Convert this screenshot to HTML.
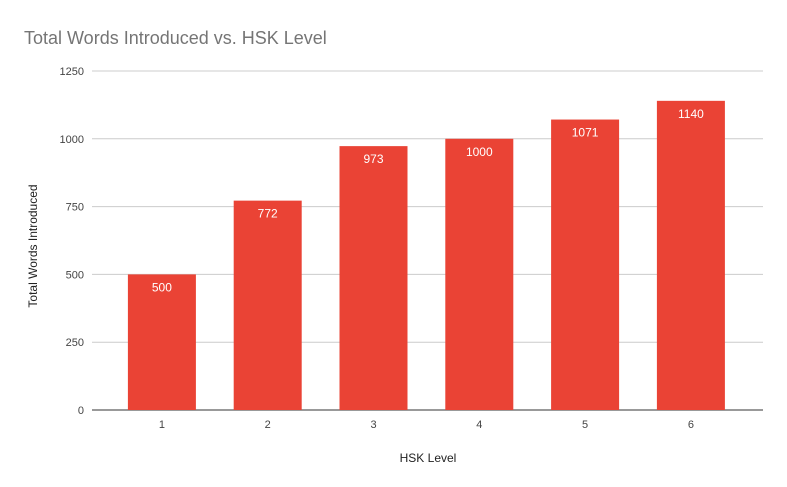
<!DOCTYPE html>
<html><head><meta charset="utf-8"><style>
body{margin:0;background:#fff;font-family:"Liberation Sans",Arial,sans-serif;}
svg{display:block}
</style></head><body>
<svg id="chart" width="787" height="487" viewBox="0 0 787 487" xmlns="http://www.w3.org/2000/svg">
<rect width="787" height="487" fill="#fff"/>
<text x="24" y="44" font-size="18" fill="#757575">Total Words Introduced vs. HSK Level</text>
<g id="grid"></g><g id="bars"></g><g id="labels"></g>
<text x="428" y="462" font-size="12" text-anchor="middle" fill="#222">HSK Level</text>
<text transform="translate(37,246) rotate(-90)" font-size="12" text-anchor="middle" fill="#222">Total Words Introduced</text>
</svg>
<script>
const categories=["1","2","3","4","5","6"];
const values=[500,772,973,1000,1071,1140];
const yTicks=[0,250,500,750,1000,1250];
const ns="http://www.w3.org/2000/svg";
const y0=410,yTop=71,yMax=1250;
const y=v=>y0-(v/yMax)*(y0-yTop);
const bandStart=109,bandW=105.8,barW=68;
const x=i=>bandStart+bandW*i+bandW/2;
function mk(t,a,p){const e=document.createElementNS(ns,t);for(const k in a)e.setAttribute(k,a[k]);p.appendChild(e);return e;}
const g=document.getElementById('grid'),b=document.getElementById('bars'),l=document.getElementById('labels');
yTicks.forEach(t=>{
 const ln=mk('line',{x1:92,x2:763,y1:y(t),y2:y(t),stroke:t===0?'#333':'#ccc','stroke-width':1},g);
 
 
 const tx=mk('text',{x:84,y:y(t)+4,'font-size':11,'text-anchor':'end',fill:'#444'},g);
 tx.textContent=t;
 
 
});
categories.forEach((c,i)=>{
 const r=mk('rect',{x:x(i)-barW/2,y:y(values[i]),width:barW,height:y0-y(values[i]),fill:'#ea4335'},b);
 
 
 const v=mk('text',{x:x(i),y:y(values[i])+17,'font-size':12,'text-anchor':'middle',fill:'#fff'},l);
 v.textContent=values[i];
 
 
 const tx=mk('text',{x:x(i),y:428,'font-size':11,'text-anchor':'middle',fill:'#444'},l);
 tx.textContent=c;
 
 
});
const ax=g.firstChild;
g.appendChild(g.children[0]);
</script>
</body></html>
